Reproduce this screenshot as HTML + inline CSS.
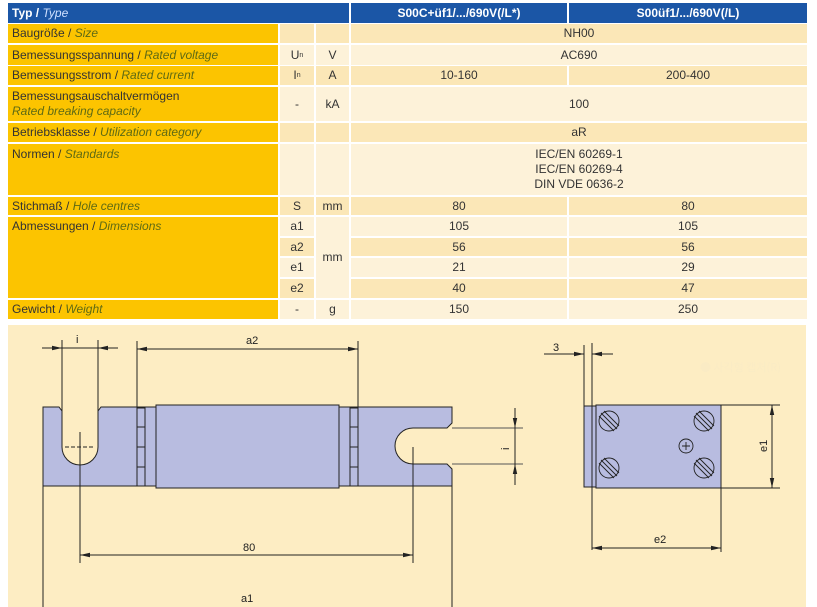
<!DOCTYPE html>
<html><head><meta charset="utf-8"><style>
*{margin:0;padding:0;box-sizing:border-box}
body{width:817px;height:607px;background:#fff;position:relative;overflow:hidden;font-family:"Liberation Sans","DejaVu Sans",sans-serif;font-size:12px;color:#333}
.c{position:absolute;display:flex;align-items:center;justify-content:center;text-align:center;line-height:15px}
.l{position:absolute;background:#fcc400;padding-left:4px;line-height:15px;display:flex;align-items:center}
.l i{color:#5e6a14}
.h{position:absolute;background:#1b56a6;color:#fff;font-weight:bold;display:flex;align-items:center}
.t{background:#fbe7b7}.p{background:#fdf2d9}
sub{font-size:7px;vertical-align:-3px}
</style></head><body>
<div class="h" style="left:8px;top:3px;width:341px;height:20px;padding-left:4px">Typ /&nbsp;<i style="font-weight:normal;color:#cfe0ff">Type</i></div>
<div class="h" style="left:351px;top:3px;width:216px;height:20px;justify-content:center">S00C+üf1/.../690V(/L*)</div>
<div class="h" style="left:569px;top:3px;width:238px;height:20px;justify-content:center">S00üf1/.../690V(/L)</div>

<div class="l" style="left:8px;top:24px;width:270px;height:19px">Baugröße /&nbsp;<i>Size</i></div>
<div class="l" style="left:8px;top:45px;width:270px;height:20px">Bemessungsspannung /&nbsp;<i>Rated voltage</i></div>
<div class="l" style="left:8px;top:66px;width:270px;height:19px">Bemessungsstrom /&nbsp;<i>Rated current</i></div>
<div class="l" style="left:8px;top:87px;width:270px;height:34px;flex-direction:column;align-items:flex-start;justify-content:center">Bemessungsauschaltvermögen<i>Rated breaking capacity</i></div>
<div class="l" style="left:8px;top:123px;width:270px;height:19px">Betriebsklasse /&nbsp;<i>Utilization category</i></div>
<div class="l" style="left:8px;top:144px;width:270px;height:51px;align-items:flex-start;padding-top:3px">Normen /&nbsp;<i>Standards</i></div>
<div class="l" style="left:8px;top:197px;width:270px;height:18px">Stichmaß /&nbsp;<i>Hole centres</i></div>
<div class="l" style="left:8px;top:217px;width:270px;height:81px;align-items:flex-start;padding-top:2px">Abmessungen /&nbsp;<i>Dimensions</i></div>
<div class="l" style="left:8px;top:300px;width:270px;height:19px">Gewicht /&nbsp;<i>Weight</i></div>

<div class="c t" style="left:280px;top:24px;width:34px;height:19px"></div><div class="c t" style="left:316px;top:24px;width:33px;height:19px"></div><div class="c t" style="left:351px;top:24px;width:456px;height:19px">NH00</div>
<div class="c p" style="left:280px;top:45px;width:34px;height:20px">U<sub>n</sub></div><div class="c p" style="left:316px;top:45px;width:33px;height:20px">V</div><div class="c p" style="left:351px;top:45px;width:456px;height:20px">AC690</div>
<div class="c t" style="left:280px;top:66px;width:34px;height:19px">I<sub>n</sub></div><div class="c t" style="left:316px;top:66px;width:33px;height:19px">A</div><div class="c t" style="left:351px;top:66px;width:216px;height:19px">10-160</div><div class="c t" style="left:569px;top:66px;width:238px;height:19px">200-400</div>
<div class="c p" style="left:280px;top:87px;width:34px;height:34px">-</div><div class="c p" style="left:316px;top:87px;width:33px;height:34px">kA</div><div class="c p" style="left:351px;top:87px;width:456px;height:34px">100</div>
<div class="c t" style="left:280px;top:123px;width:34px;height:19px"></div><div class="c t" style="left:316px;top:123px;width:33px;height:19px"></div><div class="c t" style="left:351px;top:123px;width:456px;height:19px">aR</div>
<div class="c p" style="left:280px;top:144px;width:34px;height:51px"></div><div class="c p" style="left:316px;top:144px;width:33px;height:51px"></div><div class="c p" style="left:351px;top:144px;width:456px;height:51px">IEC/EN 60269-1<br>IEC/EN 60269-4<br>DIN VDE 0636-2</div>
<div class="c t" style="left:280px;top:197px;width:34px;height:18px">S</div><div class="c t" style="left:316px;top:197px;width:33px;height:18px">mm</div><div class="c t" style="left:351px;top:197px;width:216px;height:18px">80</div><div class="c t" style="left:569px;top:197px;width:238px;height:18px">80</div>
<div class="c p" style="left:280px;top:217px;width:34px;height:19px">a1</div><div class="c p" style="left:351px;top:217px;width:216px;height:19px">105</div><div class="c p" style="left:569px;top:217px;width:238px;height:19px">105</div>
<div class="c t" style="left:280px;top:238px;width:34px;height:18px">a2</div><div class="c t" style="left:351px;top:238px;width:216px;height:18px">56</div><div class="c t" style="left:569px;top:238px;width:238px;height:18px">56</div>
<div class="c p" style="left:280px;top:258px;width:34px;height:19px">e1</div><div class="c p" style="left:351px;top:258px;width:216px;height:19px">21</div><div class="c p" style="left:569px;top:258px;width:238px;height:19px">29</div>
<div class="c t" style="left:280px;top:279px;width:34px;height:19px">e2</div><div class="c t" style="left:351px;top:279px;width:216px;height:19px">40</div><div class="c t" style="left:569px;top:279px;width:238px;height:19px">47</div>
<div class="c p" style="left:316px;top:217px;width:33px;height:81px">mm</div>
<div class="c p" style="left:280px;top:300px;width:34px;height:19px">-</div><div class="c p" style="left:316px;top:300px;width:33px;height:19px">g</div><div class="c p" style="left:351px;top:300px;width:216px;height:19px">150</div><div class="c p" style="left:569px;top:300px;width:238px;height:19px">250</div>

<svg style="position:absolute;left:0;top:0" width="817" height="607" font-family="Liberation Sans, sans-serif" font-size="11" fill="#222">
<defs><marker id="a" markerWidth="10" markerHeight="6" refX="10" refY="3" orient="auto" markerUnits="userSpaceOnUse"><path d="M0,0.8 L10,3 L0,5.2z" fill="#222"/></marker></defs>
<rect x="8" y="325" width="798" height="282" fill="#fdedc3"/>
<text x="700" y="371" fill="#faebc4" font-family="Noto Sans CJK KR, sans-serif" font-size="11">●  사각형 캡처(R)</text>
<g stroke="#222" stroke-width="1" fill="none">
<path d="M43,407 H59 L62,411 V447 A18,18 0 0 0 98,447 V411 L101,407 H452 V423 L447,428 H413 A18,18 0 0 0 413,464 H447 L452,469 V486 H43 Z" fill="#b8bce0"/>
<line x1="452" y1="428" x2="523" y2="428" stroke="#555"/>
<line x1="452" y1="464" x2="523" y2="464" stroke="#555"/>
<rect x="156" y="405" width="183" height="83" fill="#b8bce0"/>
<rect x="137" y="408" width="8" height="78" fill="#b8bce0"/>
<rect x="350" y="408" width="8" height="78" fill="#b8bce0"/>
<line x1="137" y1="427" x2="145" y2="427"/><line x1="137" y1="447" x2="145" y2="447"/><line x1="137" y1="467" x2="145" y2="467"/>
<line x1="350" y1="427" x2="358" y2="427"/><line x1="350" y1="447" x2="358" y2="447"/><line x1="350" y1="467" x2="358" y2="467"/>
<line x1="65" y1="447" x2="95" y2="447" stroke-dasharray="4,2"/>
<line x1="80" y1="432" x2="80" y2="563"/>
<line x1="413" y1="447" x2="413" y2="563"/>
<line x1="62" y1="340" x2="62" y2="447"/><line x1="98" y1="340" x2="98" y2="447"/>
<line x1="42" y1="348" x2="62" y2="348" marker-end="url(#a)"/><line x1="118" y1="348" x2="98" y2="348" marker-end="url(#a)"/>
<line x1="62" y1="348" x2="98" y2="348"/>
<line x1="137" y1="341" x2="137" y2="408"/><line x1="358" y1="341" x2="358" y2="408"/>
<line x1="247" y1="349" x2="137" y2="349" marker-end="url(#a)"/><line x1="247" y1="349" x2="358" y2="349" marker-end="url(#a)"/>
<line x1="247" y1="555" x2="80" y2="555" marker-end="url(#a)"/><line x1="247" y1="555" x2="413" y2="555" marker-end="url(#a)"/>
<line x1="43" y1="486" x2="43" y2="607"/><line x1="452" y1="486" x2="452" y2="607"/>
<line x1="515" y1="408" x2="515" y2="428" marker-end="url(#a)"/><line x1="515" y1="485" x2="515" y2="464" marker-end="url(#a)"/>
<line x1="515" y1="428" x2="515" y2="464"/>
<rect x="584" y="406" width="12" height="81" fill="#b8bce0"/>
<rect x="596" y="405" width="125" height="83" fill="#b8bce0"/>
<line x1="584" y1="345" x2="584" y2="406"/><line x1="592" y1="343" x2="592" y2="550"/>
<line x1="544" y1="354" x2="584" y2="354" marker-end="url(#a)"/><line x1="613" y1="354" x2="592" y2="354" marker-end="url(#a)"/>
<line x1="721" y1="405" x2="780" y2="405"/><line x1="721" y1="488" x2="780" y2="488"/>
<line x1="772" y1="446" x2="772" y2="405" marker-end="url(#a)"/><line x1="772" y1="446" x2="772" y2="488" marker-end="url(#a)"/>
<line x1="721" y1="488" x2="721" y2="552"/>
<line x1="656" y1="548" x2="592" y2="548" marker-end="url(#a)"/><line x1="656" y1="548" x2="721" y2="548" marker-end="url(#a)"/>
<g stroke-width="0.9">
<circle cx="609" cy="421" r="10"/><path d="M601,413 L617,429 M604,411 L619,426 M599,416 L614,431"/>
<circle cx="704" cy="421" r="10"/><path d="M696,413 L712,429 M699,411 L714,426 M694,416 L709,431"/>
<circle cx="609" cy="468" r="10"/><path d="M601,460 L617,476 M604,458 L619,473 M599,463 L614,478"/>
<circle cx="704" cy="468" r="10"/><path d="M696,460 L712,476 M699,458 L714,473 M694,463 L709,478"/>
<circle cx="686" cy="446" r="7"/><path d="M682,446 H690 M686,442 V450"/>
</g>
</g>
<text x="76" y="343">i</text>
<text x="246" y="344">a2</text>
<text x="243" y="551">80</text>
<text x="241" y="602">a1</text>
<text x="553" y="351">3</text>
<text x="654" y="543">e2</text>
<text transform="translate(767,452) rotate(-90)">e1</text>
<text transform="translate(509,450) rotate(-90)">i</text>
</svg>
</body></html>
